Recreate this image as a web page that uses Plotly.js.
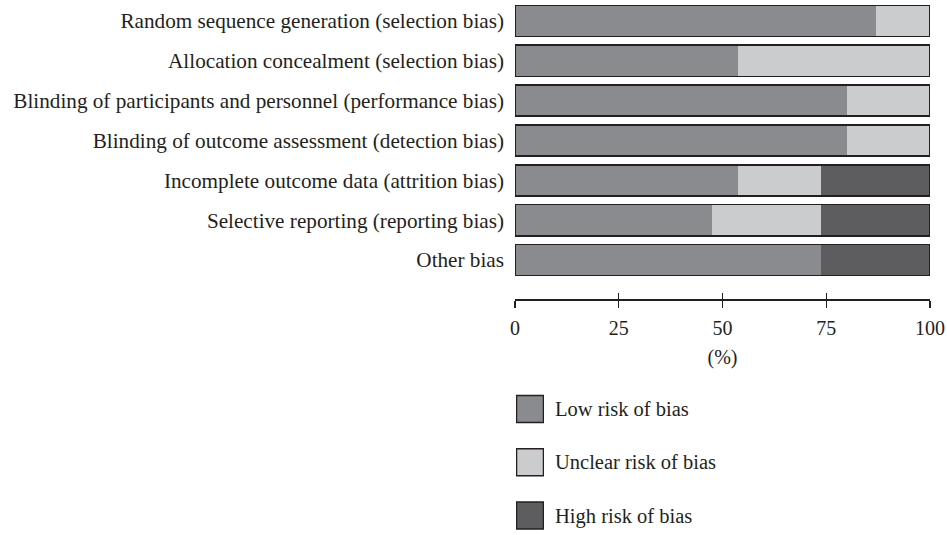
<!DOCTYPE html>
<html>
<head>
<meta charset="utf-8">
<script src="https://cdn.plot.ly/plotly-3.0.1.min.js"></script>
<style>html,body{margin:0;padding:0;background:#fff;}#chart{width:947px;height:535px;}</style>
</head>
<body>
<div id="chart"></div>
<script>
const categories = [
  "Random sequence generation (selection bias)",
  "Allocation concealment (selection bias)",
  "Blinding of participants and personnel (performance bias)",
  "Blinding of outcome assessment (detection bias)",
  "Incomplete outcome data (attrition bias)",
  "Selective reporting (reporting bias)",
  "Other bias"
];
const lowRisk     = [87.0, 53.8, 80.0, 80.0, 53.8, 47.5, 73.8];
const unclearRisk = [13.0, 46.2, 20.0, 20.0, 20.0, 26.2, 0.0];
const highRisk    = [0.0, 0.0, 0.0, 0.0, 26.2, 26.3, 26.2];
const seriesNames = ["Low risk of bias", "Unclear risk of bias", "High risk of bias"];
const xTicks = [0, 25, 50, 75, 100];

const colors = ["#8a8b8e", "#cbcccd", "#5d5d60"];
const ink = "#231f20";
const FONT = "Liberation Serif, Times New Roman, serif";
const H = 534; // plot height (t=1,b=0)
const f = px => 1 - (px - 1) / H;

const totals = lowRisk.map((v, i) => v + unclearRisk[i] + highRisk[i]);
const BW = 0.78;

const seg = (vals, i) => ({
  type: "bar", orientation: "h", x: vals, y: categories, name: seriesNames[i],
  width: BW, marker: {color: colors[i], line: {width: 0}},
  xaxis: "x", yaxis: "y", hoverinfo: "x+y+name"
});

const traces = [
  seg(lowRisk, 0), seg(unclearRisk, 1), seg(highRisk, 2),
  {
    type: "bar", orientation: "h", x: totals, y: categories, width: BW,
    marker: {color: "rgba(0,0,0,0)", line: {color: ink, width: 1.5}},
    xaxis: "x2", yaxis: "y3", hoverinfo: "skip"
  },
  {
    type: "scatter", mode: "markers", x: seriesNames.map(() => 0), y: seriesNames,
    marker: {symbol: "square", size: 27, color: colors, line: {color: ink, width: 1.5}},
    xaxis: "x3", yaxis: "y2", hoverinfo: "y"
  }
];

const axPos = f(299.3);
const layout = {
  width: 947, height: 535,
  margin: {l: 515, r: 17, t: 1, b: 0},
  paper_bgcolor: "#fff", plot_bgcolor: "rgba(0,0,0,0)",
  showlegend: false, barmode: "stack",
  font: {family: FONT, color: ink, size: 20},
  xaxis: {
    domain: [0, 1], range: [0, 100], anchor: "free", position: axPos,
    tickmode: "array", tickvals: xTicks, ticktext: xTicks.map(String),
    ticks: "outside", ticklen: 7, tickwidth: 1.3, tickcolor: ink,
    showline: true, linecolor: ink, linewidth: 1.3,
    showgrid: false, zeroline: false, fixedrange: true,
    tickfont: {size: 20, family: FONT, color: ink}, ticklabelstandoff: 3,
    title: {text: "(%)", standoff: 12, font: {size: 20, family: FONT, color: ink}}
  },
  xaxis2: {
    overlaying: "x", range: [0, 100], anchor: "free", position: axPos,
    tickmode: "array", tickvals: xTicks,
    ticks: "inside", ticklen: 6, tickwidth: 1.3, tickcolor: ink,
    showticklabels: false, showline: false, showgrid: false, zeroline: false, fixedrange: true
  },
  yaxis: {
    domain: [f(280), f(1)], anchor: "x",
    type: "category", categoryarray: categories, autorange: false, range: [6.5, -0.5],
    ticks: "", showline: false, showgrid: false, zeroline: false, fixedrange: true,
    tickfont: {size: 21.2, family: FONT, color: ink}, ticklabelstandoff: 10
  },
  yaxis3: {
    overlaying: "y", anchor: "x2",
    type: "category", categoryarray: categories, autorange: false, range: [6.5, -0.5],
    visible: false, fixedrange: true
  },
  xaxis3: {domain: [0.0024, 0.0699], range: [-1, 1], anchor: "y2", visible: false, fixedrange: true},
  yaxis2: {
    domain: [0, f(382)], anchor: "free", position: 0.094, side: "right",
    type: "category", categoryarray: seriesNames.slice().reverse(),
    autorange: false, range: [-0.366, 2.507],
    ticks: "", showline: false, showgrid: false, zeroline: false, fixedrange: true,
    tickfont: {size: 20.5, family: FONT, color: ink}, ticklabelstandoff: 0
  }
};

Plotly.newPlot("chart", traces, layout, {displayModeBar: false, staticPlot: true});
</script>
</body>
</html>
